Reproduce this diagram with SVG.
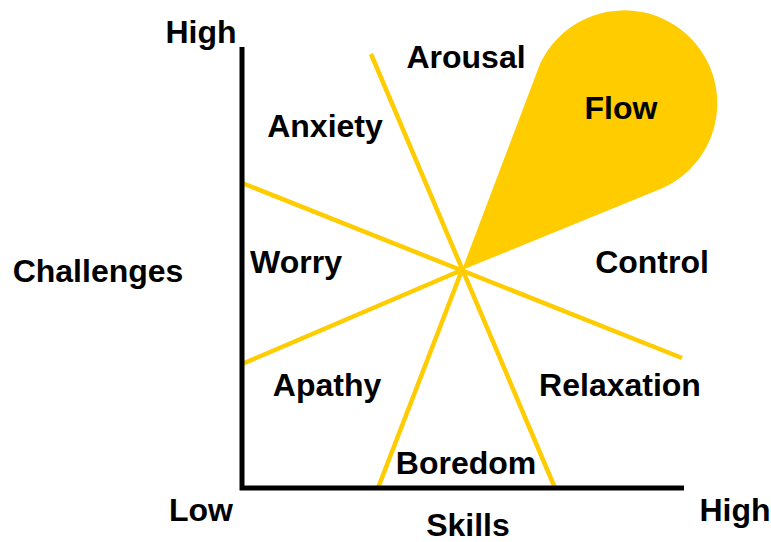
<svg xmlns="http://www.w3.org/2000/svg" width="771" height="542" viewBox="0 0 771 542">
<style>
text{font-family:"Liberation Sans",Arial,sans-serif;font-weight:bold;font-size:32px;fill:#000}
.y{stroke:#FFCC00;stroke-width:4.5;fill:none}
.ax{stroke:#000;stroke-width:5;fill:none}
</style>
<rect width="771" height="542" fill="#fff"/>
<g id="flow"><path d="M462,270 L540,64 A93,93 0 1 1 658,190 Z" fill="#FFCC00"/><text x="621" y="119" text-anchor="middle">Flow</text></g>
<g id="connectors">
<line class="y" x1="371" y1="54" x2="555" y2="488"/>
<line class="y" x1="378" y1="488" x2="462" y2="270"/>
<line class="y" x1="242" y1="183" x2="682" y2="358"/>
<line class="y" x1="242" y1="364" x2="462" y2="270"/>
<polyline class="ax" points="242,47 242,488 684,488"/>
</g>
<g id="labels">
<text x="201" y="43" text-anchor="middle">High</text>
<text x="98" y="282" text-anchor="middle">Challenges</text>
<text x="201" y="521" text-anchor="middle">Low</text>
<text x="468" y="536" text-anchor="middle">Skills</text>
<text x="735" y="521" text-anchor="middle">High</text>
</g>
<g id="arousal"><text x="466" y="68" text-anchor="middle">Arousal</text></g>
<g id="anxiety"><text x="325" y="137" text-anchor="middle">Anxiety</text></g>
<g id="worry"><text x="296" y="273" text-anchor="middle">Worry</text></g>
<g id="apathy"><text x="327" y="396" text-anchor="middle">Apathy</text></g>
<g id="boredom"><text x="466" y="474" text-anchor="middle">Boredom</text></g>
<g id="relaxation"><text x="620" y="396" text-anchor="middle">Relaxation</text></g>
<g id="control"><text x="652" y="273" text-anchor="middle">Control</text></g>
</svg>
